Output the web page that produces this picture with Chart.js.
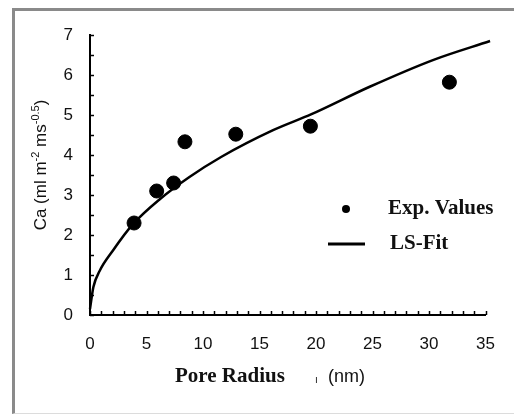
<!DOCTYPE html>
<html>
<head>
<meta charset="utf-8">
<script src="https://cdn.jsdelivr.net/npm/chart.js@4/dist/chart.umd.min.js"></script>
<style>
  body { margin: 0; background: #fff; }
  #wrap { position: relative; width: 514px; height: 415px; }
  #frame {
    position: absolute; left: 12px; top: 8px; right: 0; bottom: 1px;
    border-top: 3px solid #8a8a8a; border-left: 3px solid #8a8a8a;
    border-bottom: 1px solid #dcdcdc;
  }
  canvas { position: absolute; left: 0; top: 0; }
</style>
</head>
<body>
<div id="wrap">
  <div id="frame"></div>
  <canvas id="myChart" width="514" height="415"></canvas>
</div>
<script>
// experimental points (pore radius nm, Ca)
var expX = [3.9, 5.9, 7.4, 8.4, 12.9, 19.5, 31.8];
var expY = [2.3, 3.1, 3.3, 4.33, 4.52, 4.72, 5.82];

// least squares fit
var fitX = [0, 0.3, 0.85, 2, 3.8, 6.2, 8.8, 11.6, 16.2, 19.6, 24.7, 30.4, 35.4];
var fitY = [0.15, 0.7, 1.1, 1.6, 2.27, 2.9, 3.45, 3.95, 4.62, 5.02, 5.7, 6.38, 6.85];

var xTicks = [0, 5, 10, 15, 20, 25, 30, 35];
var yTicks = [0, 1, 2, 3, 4, 5, 6, 7];

var legendLabels = ["Exp. Values", "LS-Fit"];

var tickFont = { family: "'Liberation Sans Narrow', 'Liberation Sans', sans-serif", size: 17 };

const extras = {
  id: "extras",
  afterDraw(chart) {
    const ctx = chart.ctx;
    const xs = chart.scales.x, ys = chart.scales.y;
    ctx.save();
    // inner ticks
    ctx.strokeStyle = "#000";
    ctx.lineWidth = 1.5;
    for (let v = 0; v <= 7; v += 0.5) {
      const py = Math.round(ys.getPixelForValue(v)) + 0.5;
      ctx.beginPath(); ctx.moveTo(xs.left, py); ctx.lineTo(xs.left + 4, py); ctx.stroke();
    }
    for (let v = 0; v <= 35; v += 1) {
      const px = Math.round(xs.getPixelForValue(v)) + 0.5;
      ctx.beginPath(); ctx.moveTo(px, ys.bottom); ctx.lineTo(px, ys.bottom - 4); ctx.stroke();
    }

    // legend
    const ds = chart.data.datasets;
    ctx.fillStyle = ds[0].backgroundColor;
    ctx.beginPath(); ctx.arc(346, 209, 4, 0, Math.PI * 2); ctx.fill();
    ctx.strokeStyle = ds[1].borderColor;
    ctx.lineWidth = 3;
    ctx.beginPath(); ctx.moveTo(328, 244); ctx.lineTo(365, 244); ctx.stroke();
    ctx.fillStyle = "#111";
    ctx.font = "bold 21px 'Liberation Serif', serif";
    ctx.textBaseline = "middle";
    ctx.textAlign = "left";
    ctx.fillText(legendLabels[0], 388, 209);
    ctx.fillText(legendLabels[1], 390, 244);

    // x title
    ctx.fillText("Pore Radius", 175, 377);
    ctx.font = "10px 'Liberation Sans', sans-serif";
    ctx.fillText("ı", 315, 380);
    ctx.font = "18px 'Liberation Sans', sans-serif";
    ctx.fillText("(nm)", 328, 377);

    // y title with superscripts
    const parts = [["Ca (ml m", 0], ["-2", 1], [" ms", 0], ["-0.5", 1], [")", 0]];
    const big = "17px 'Liberation Sans', sans-serif", small = "11px 'Liberation Sans', sans-serif";
    let total = 0;
    parts.forEach(p => { ctx.font = p[1] ? small : big; total += ctx.measureText(p[0]).width; });
    ctx.translate(40, 165);
    ctx.rotate(-Math.PI / 2);
    let cx = -total / 2;
    ctx.textBaseline = "alphabetic";
    parts.forEach(p => {
      ctx.font = p[1] ? small : big;
      ctx.fillText(p[0], cx, p[1] ? -1 : 6);
      cx += ctx.measureText(p[0]).width;
    });
    ctx.restore();
  }
};

new Chart("myChart", {
  type: "scatter",
  data: {
    datasets: [{
      label: legendLabels[0],
      data: expX.map((x, i) => ({ x: x, y: expY[i] })),
      backgroundColor: "#000",
      borderColor: "#000",
      pointRadius: 7,
      pointHoverRadius: 7
    }, {
      label: legendLabels[1],
      type: "line",
      data: fitX.map((x, i) => ({ x: x, y: fitY[i] })),
      borderColor: "#000",
      borderWidth: 2.5,
      pointRadius: 0,
      cubicInterpolationMode: "monotone",
      fill: false,
      clip: false
    }]
  },
  options: {
    responsive: false,
    animation: false,
    events: [],
    layout: { padding: { top: 35, right: 13, left: 0, bottom: 0 } },
    plugins: { legend: { display: false }, tooltip: { enabled: false } },
    scales: {
      x: {
        type: "linear", min: 0, max: 35,
        afterBuildTicks: s => { s.ticks = xTicks.map(v => ({ value: v })); },
        afterFit: s => { s.height = 100; },
        ticks: { font: tickFont, color: "#111", padding: 19 },
        grid: { drawOnChartArea: false, drawTicks: false },
        border: { display: true, color: "#000", width: 2 }
      },
      y: {
        min: 0, max: 7,
        afterBuildTicks: s => { s.ticks = yTicks.map(v => ({ value: v })); },
        afterFit: s => { s.width = 90; },
        ticks: { font: tickFont, color: "#111", padding: 17 },
        grid: { drawOnChartArea: false, drawTicks: false },
        border: { display: true, color: "#000", width: 2 }
      }
    }
  },
  plugins: [extras]
});
</script>
</body>
</html>
